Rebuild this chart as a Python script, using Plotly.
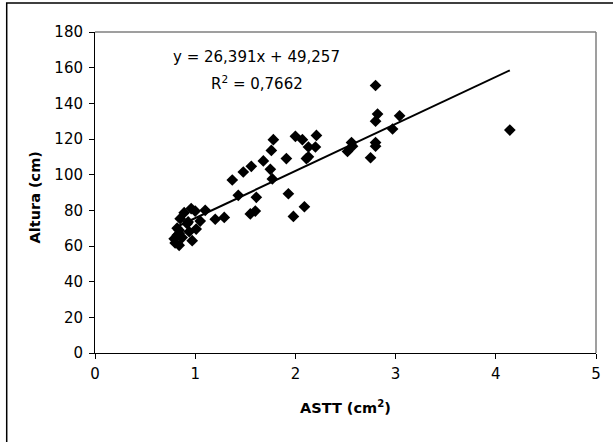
import plotly.graph_objects as go

astt = [4.14, 2.80, 2.82, 2.80, 3.04, 2.97, 2.80, 2.80, 2.75, 2.52, 2.56, 2.57,
        2.21, 2.20, 2.13, 2.07, 2.00, 2.13, 2.11, 2.09, 1.98, 1.93, 1.91,
        1.78, 1.76, 1.75, 1.77, 1.68, 1.56, 1.48, 1.37, 1.43, 1.61, 1.60, 1.55,
        1.29, 1.20, 1.10, 1.05, 1.01, 1.00, 0.96, 0.94, 0.97, 0.93, 0.89, 0.85,
        0.82, 0.84, 0.79, 0.80, 0.84, 0.87, 0.84, 0.82, 0.92]
altura = [125, 150, 134, 130, 133, 125.6, 118, 116, 109.5, 113, 118, 116,
          122, 115.5, 115.5, 119.6, 121.5, 110, 109, 82, 76.6, 89.3, 109,
          119.6, 113.6, 103, 97.6, 107.7, 104.7, 101.5, 97, 88.4, 87.3, 79.6, 78,
          76, 75, 80, 74, 69.5, 79.6, 81, 68, 63, 73.5, 78.7, 75.3,
          70, 67, 64, 61.7, 60.4, 64.7, 68.8, 66, 72.5]
slope = 26.391
intercept = 49.257
x_ticks = [0, 1, 2, 3, 4, 5]
y_ticks = [0, 20, 40, 60, 80, 100, 120, 140, 160, 180]

fig = go.Figure()
fig.add_trace(go.Scatter(x=astt, y=altura, mode="markers",
                         marker=dict(symbol="diamond", size=9, color="black"),
                         showlegend=False, hoverinfo="x+y"))
x_line = [min(astt), max(astt)]
fig.add_trace(go.Scatter(x=x_line, y=[slope * v + intercept for v in x_line],
                         mode="lines", line=dict(color="black", width=2),
                         showlegend=False))

font_family = "DejaVu Sans, Verdana, sans-serif"
fig.update_layout(
    width=613, height=442,
    margin=dict(l=95, r=13, t=32, b=89),
    paper_bgcolor="white", plot_bgcolor="white",
    font=dict(family=font_family, size=15, color="black"),
    xaxis=dict(range=[0, 5], tickvals=x_ticks, showgrid=False, zeroline=False,
               showline=True, linecolor="black", linewidth=1,
               ticks="outside", ticklen=5, tickcolor="black",
               ticklabelstandoff=2, tickfont=dict(size=15)),
    yaxis=dict(range=[0, 180], tickvals=y_ticks, showgrid=False, zeroline=False,
               showline=True, linecolor="black", linewidth=1,
               ticks="outside", ticklen=5, tickcolor="black",
               ticklabelstandoff=3, tickfont=dict(size=15)),
    shapes=[
        dict(type="line", xref="paper", yref="paper", x0=0, x1=1, y0=1, y1=1,
             line=dict(color="#7f7f7f", width=1.5), layer="above"),
        dict(type="line", xref="paper", yref="paper", x0=1, x1=1, y0=0, y1=1,
             line=dict(color="#7f7f7f", width=1.5), layer="above"),
        dict(type="rect", xref="paper", yref="paper",
             x0=(6 - 95) / 505, x1=(630 - 95) / 505,
             y0=(353 - 460) / 321, y1=(353 - 3) / 321,
             line=dict(color="black", width=1.5)),
    ],
    annotations=[
        dict(text="y = 26,391x + 49,257", x=1.61, y=166, xref="x", yref="y",
             showarrow=False, font=dict(size=15)),
        dict(text="R<sup>2</sup> = 0,7662", x=1.62, y=151.4, xref="x", yref="y",
             showarrow=False, font=dict(size=15)),
        dict(text="<b>ASTT (cm<sup>2</sup>)</b>", x=0.5, y=(353 - 407) / 321,
             xref="paper", yref="paper", xanchor="center", yanchor="middle",
             showarrow=False, font=dict(size=14.5)),
        dict(text="<b>Altura (cm)</b>", x=(35 - 95) / 505, y=0.486,
             xref="paper", yref="paper", xanchor="center", yanchor="middle",
             showarrow=False, textangle=-90, font=dict(size=14.5)),
    ],
)
fig.write_html("out.html", config={"displayModeBar": False},
               post_script="document.body.style.margin='0';")
